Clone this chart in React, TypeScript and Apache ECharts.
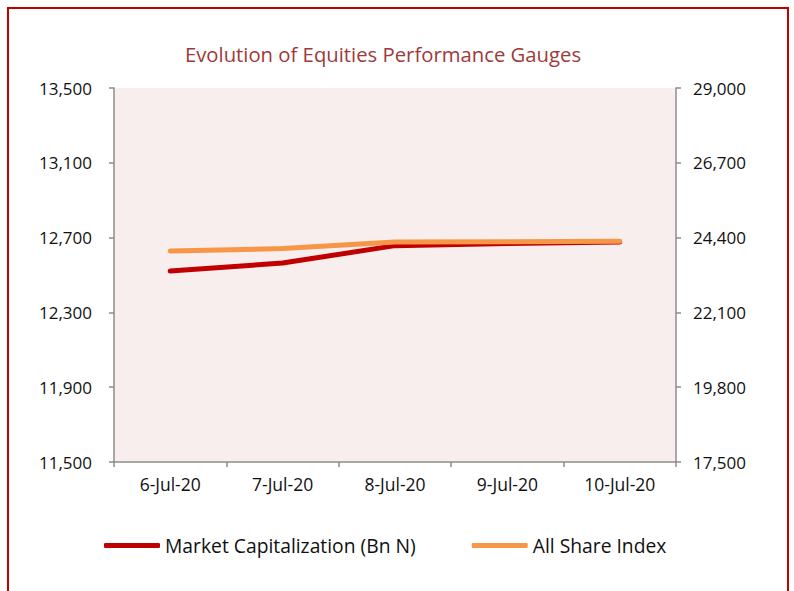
import React, { useEffect, useRef } from "react";
import * as echarts from "echarts";

const categories = ["6-Jul-20", "7-Jul-20", "8-Jul-20", "9-Jul-20", "10-Jul-20"];
const marketCap = [12521, 12564, 12657, 12668, 12676];
const allShareIndex = [23988, 24062, 24265, 24271, 24285];
const leftTicks = [11500, 11900, 12300, 12700, 13100, 13500];
const rightTicks = [17500, 19800, 22100, 24400, 26700, 29000];

const FONT = "'Open Sans', 'Noto Sans', sans-serif";
const fmt = (v: number) => Number(v).toLocaleString("en-US");

export default function App() {
  const ref = useRef<HTMLDivElement>(null);
  useEffect(() => {
    if (!ref.current) return;
    const chart = echarts.init(ref.current, null, { renderer: "svg" });
    const axisLine = { show: true, lineStyle: { color: "#8c8c8c", width: 1.5 } };
    const axisTick = { show: true, length: 5, lineStyle: { color: "#8c8c8c", width: 1.5 } };
    chart.setOption({
      animation: false,
      backgroundColor: "#ffffff",
      textStyle: { fontFamily: FONT },
      title: {
        text: "Evolution of Equities Performance Gauges",
        left: 378,
        textAlign: "center",
        top: 39,
        textStyle: { color: "#9e3a3a", fontSize: 20.3, fontWeight: "normal", fontFamily: FONT },
      },
      graphic: [
        {
          type: "rect",
          shape: { x: 8, y: 8, width: 780, height: 620 },
          style: { fill: "none", stroke: "#c00000", lineWidth: 2 },
          silent: true,
        },
      ],
      grid: {
        left: 114,
        right: 118,
        top: 88,
        bottom: 129,
        show: true,
        backgroundColor: "#f8eeed",
        borderWidth: 0,
      },
      legend: {
        left: 104,
        top: 536,
        padding: 0,
        itemWidth: 56,
        itemHeight: 5,
        itemGap: 56,
        icon: "roundRect",
        textStyle: { fontSize: 19.3, color: "#111", fontFamily: FONT },
        data: ["Market Capitalization (Bn N)", "All Share Index"],
      },
      xAxis: {
        type: "category",
        data: categories,
        boundaryGap: true,
        axisLine,
        axisTick,
        axisLabel: { color: "#111", fontSize: 17.5, margin: 13, fontFamily: FONT },
        splitLine: { show: false },
      },
      yAxis: [
        {
          type: "value",
          position: "left",
          min: 11500,
          max: 13500,
          axisLine,
          axisTick: { ...axisTick, customValues: leftTicks },
          axisLabel: { color: "#111", fontSize: 17, margin: 22, customValues: leftTicks, formatter: fmt, fontFamily: FONT },
          splitLine: { show: false },
        },
        {
          type: "value",
          position: "right",
          min: 17500,
          max: 29000,
          axisLine,
          axisTick: { ...axisTick, customValues: rightTicks },
          axisLabel: { color: "#111", fontSize: 17, margin: 17, customValues: rightTicks, formatter: fmt, fontFamily: FONT },
          splitLine: { show: false },
        },
      ],
      series: [
        {
          name: "Market Capitalization (Bn N)",
          type: "line",
          yAxisIndex: 0,
          data: marketCap,
          symbol: "none",
          lineStyle: { color: "#c00000", width: 5, cap: "round", join: "round" },
          itemStyle: { color: "#c00000" },
        },
        {
          name: "All Share Index",
          type: "line",
          yAxisIndex: 1,
          data: allShareIndex,
          symbol: "none",
          lineStyle: { color: "#f79646", width: 5, cap: "round", join: "round" },
          itemStyle: { color: "#f79646" },
        },
      ],
    });
    return () => chart.dispose();
  }, []);
  return (
    <div
      ref={ref}
      style={{ position: "absolute", left: 0, top: 0, width: 794, height: 591 }}
    />
  );
}
